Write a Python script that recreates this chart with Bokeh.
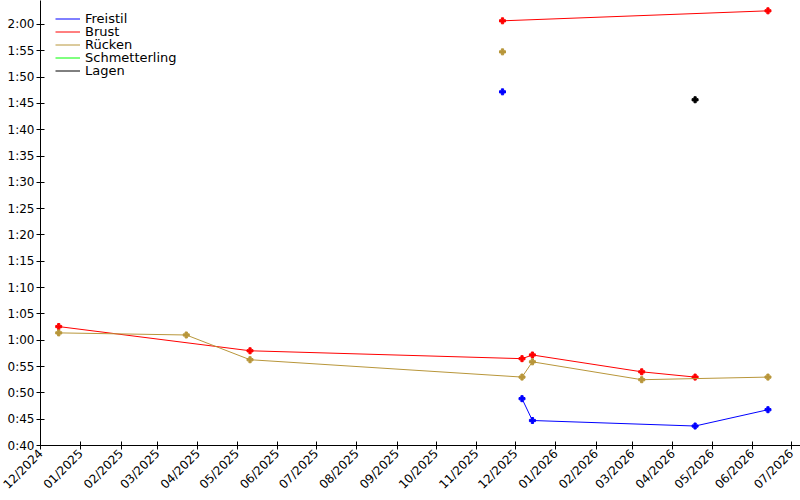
import datetime as dt
from bokeh.plotting import figure
from bokeh.models import (FixedTicker, DatetimeTickFormatter, CustomJSTickFormatter,
                          Range1d, Legend, LegendItem)
from bokeh.embed import file_html
from bokeh.resources import INLINE
import math

# ---- data (times in seconds) ----
freistil_a_dates = ["2025-11-21"]
freistil_a_times = [107.2]
freistil_b_dates = ["2025-12-06", "2025-12-14", "2026-04-18", "2026-06-13"]
freistil_b_times = [48.9, 44.75, 43.7, 46.8]

brust_a_dates = ["2024-12-15", "2025-05-11", "2025-12-06", "2025-12-14", "2026-03-08", "2026-04-18"]
brust_a_times = [62.6, 58.0, 56.5, 57.2, 54.0, 53.0]
brust_b_dates = ["2025-11-21", "2026-06-13"]
brust_b_times = [120.7, 122.6]

ruecken_a_dates = ["2024-12-15", "2025-03-23", "2025-05-11", "2025-12-06", "2025-12-14", "2026-03-08", "2026-06-13"]
ruecken_a_times = [61.4, 61.0, 56.3, 53.0, 55.9, 52.5, 53.0]
ruecken_b_dates = ["2025-11-21"]
ruecken_b_times = [114.8]

# no Schmetterling results (legend entry only)
schmetterling_dates = ["2025-01-01"]
schmetterling_times = [float("nan")]

lagen_dates = ["2026-04-18"]
lagen_times = [105.7]

legend_labels = ["Freistil", "Brust", "Rücken", "Schmetterling", "Lagen"]

month_ticks = ["2024-12-01", "2025-01-01", "2025-02-01", "2025-03-01", "2025-04-01", "2025-05-01",
               "2025-06-01", "2025-07-01", "2025-08-01", "2025-09-01", "2025-10-01", "2025-11-01",
               "2025-12-01", "2026-01-01", "2026-02-01", "2026-03-01", "2026-04-01", "2026-05-01",
               "2026-06-01", "2026-07-01"]
y_ticks = list(range(40, 125, 5))

COL_FREI = "#0000ff"
COL_BRUST = "#ff0000"
COL_RUECK = "#b8963a"
COL_SCHM = "#00ff00"
COL_LAGEN = "#000000"


def d(s):
    return dt.datetime.strptime(s, "%Y-%m-%d")


def ms(s):
    return (d(s) - dt.datetime(1970, 1, 1)).total_seconds() * 1000.0


p = figure(width=800, height=500, x_axis_type="datetime", output_backend="svg",
           toolbar_location=None, min_border_left=40, min_border_right=0,
           min_border_top=0, min_border_bottom=55)
p.x_range = Range1d(d("2024-12-01"), d("2026-07-08"))
p.y_range = Range1d(40, 124.56)
p.outline_line_color = None
p.xgrid.visible = False
p.ygrid.visible = False


def series(dates, times, color, draw_line=True):
    xs = [d(s) for s in dates]
    r = p.line(xs, times, color=color, line_width=1, visible=draw_line)
    p.scatter(xs, times, marker="plus", size=6, color=color)
    return r


r_frei = series(freistil_b_dates, freistil_b_times, COL_FREI)
series(freistil_a_dates, freistil_a_times, COL_FREI, False)
r_brust = series(brust_a_dates, brust_a_times, COL_BRUST)
series(brust_b_dates, brust_b_times, COL_BRUST)
r_rueck = series(ruecken_a_dates, ruecken_a_times, COL_RUECK)
series(ruecken_b_dates, ruecken_b_times, COL_RUECK, False)
r_schm = p.line([d(s) for s in schmetterling_dates], schmetterling_times, color=COL_SCHM, line_width=1)
series(lagen_dates, lagen_times, COL_LAGEN, False)
r_lagen = p.line([d(s) for s in lagen_dates], lagen_times, color=COL_LAGEN, line_width=1)

frame_h = 445
for i, (lab, r) in enumerate(zip(legend_labels, [r_frei, r_brust, r_rueck, r_schm, r_lagen])):
    center = 18 + 13 * i
    lg = Legend(items=[LegendItem(label=lab, renderers=[r])],
                location=(15, frame_h - center - 7.5), margin=0, padding=0, spacing=0,
                label_text_font="DejaVu Sans", label_text_font_size="13px",
                label_text_color="black",
                label_height=13, glyph_height=13, glyph_width=25, label_standoff=5,
                border_line_color=None, background_fill_alpha=0)
    p.add_layout(lg)

# axes
xa = p.xaxis[0]
xa.ticker = FixedTicker(ticks=[ms(s) for s in month_ticks])
xa.formatter = DatetimeTickFormatter(days="%m/%Y", months="%m/%Y", years="%m/%Y",
                                     hours="%m/%Y", minutes="%m/%Y")
xa.major_label_orientation = math.pi / 4
ya = p.yaxis[0]
ya.ticker = FixedTicker(ticks=y_ticks)
ya.formatter = CustomJSTickFormatter(code="""
const m = Math.floor(tick / 60); const s = Math.round(tick - m * 60);
return m + ':' + (s < 10 ? '0' + s : s);
""")
for ax in (xa, ya):
    ax.axis_line_color = "black"
    ax.major_tick_line_color = "black"
    ax.major_tick_in = 4
    ax.major_tick_out = 4
    ax.minor_tick_line_color = None
    ax.major_label_text_color = "black"
    ax.major_label_text_font = "DejaVu Sans"
    ax.major_label_text_font_size = "12px"
    ax.major_label_standoff = 2

open("out.html", "w").write(file_html(p, INLINE))
